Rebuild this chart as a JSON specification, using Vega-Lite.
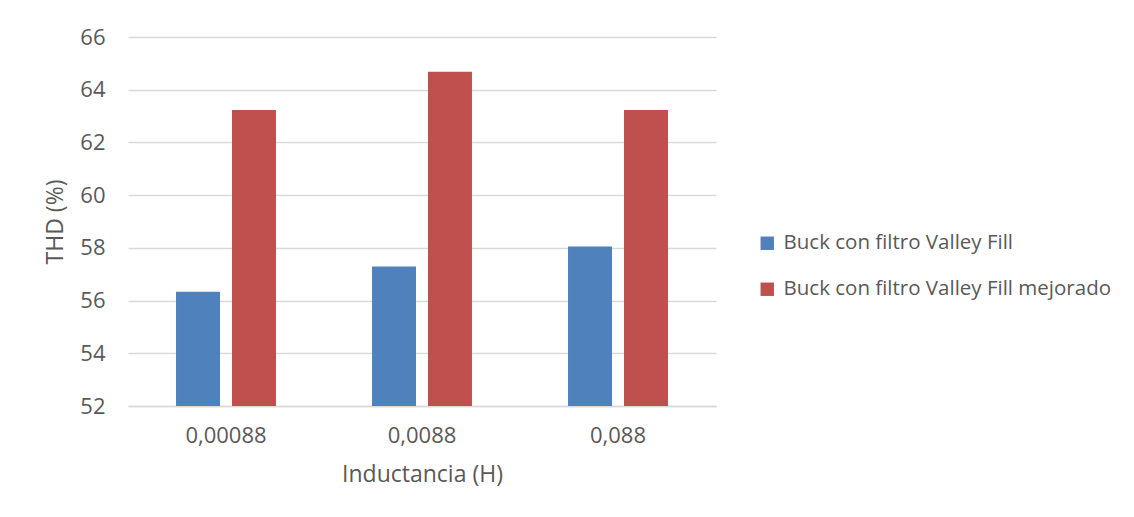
{
  "$schema": "https://vega.github.io/schema/vega-lite/v6.json",
  "autosize": "none",
  "width": 588,
  "height": 369,
  "padding": {"left": 128, "top": 37, "right": 418, "bottom": 111},
  "background": "white",
  "config": {
    "font": "Open Sans",
    "view": {"stroke": null},
    "axis": {"labelColor": "#595959", "titleColor": "#595959", "labelFont": "Open Sans", "titleFont": "Open Sans", "titleFontWeight": "normal"},
    "legend": {"labelColor": "#595959", "labelFont": "Open Sans"}
  },
  "data": {
    "values": [
      {"inductancia": "0,00088", "serie": "Buck con filtro Valley Fill", "thd": 56.33},
      {"inductancia": "0,00088", "serie": "Buck con filtro Valley Fill mejorado", "thd": 63.23},
      {"inductancia": "0,0088", "serie": "Buck con filtro Valley Fill", "thd": 57.29},
      {"inductancia": "0,0088", "serie": "Buck con filtro Valley Fill mejorado", "thd": 64.68},
      {"inductancia": "0,088", "serie": "Buck con filtro Valley Fill", "thd": 58.05},
      {"inductancia": "0,088", "serie": "Buck con filtro Valley Fill mejorado", "thd": 63.23}
    ]
  },
  "mark": {"type": "bar", "clip": true},
  "encoding": {
    "x": {
      "field": "inductancia",
      "type": "nominal",
      "sort": null,
      "scale": {"paddingInner": 0.49, "paddingOuter": 0.245},
      "axis": {
        "title": "Inductancia (H)",
        "labelAngle": 0,
        "labelFontSize": 22,
        "titleFontSize": 23,
        "labelPadding": 19,
        "titlePadding": 17,
        "ticks": false,
        "domainColor": "#d9d9d9",
        "domainWidth": 1.5
      }
    },
    "xOffset": {
      "field": "serie",
      "type": "nominal",
      "scale": {"paddingInner": 0.214, "paddingOuter": 0}
    },
    "y": {
      "field": "thd",
      "type": "quantitative",
      "scale": {"domain": [52, 66], "zero": false, "nice": false},
      "axis": {
        "title": "THD (%)",
        "values": [52, 54, 56, 58, 60, 62, 64, 66],
        "labelFontSize": 22,
        "titleFontSize": 23,
        "labelPadding": 23,
        "titlePadding": 12,
        "ticks": false,
        "domain": false,
        "gridColor": "#d9d9d9",
        "gridWidth": 1.5
      }
    },
    "color": {
      "field": "serie",
      "type": "nominal",
      "scale": {"range": ["#4F81BD", "#C0504D"]},
      "legend": {
        "title": null,
        "orient": "none",
        "legendX": 629,
        "legendY": 196,
        "symbolType": "square",
        "symbolSize": 180,
        "symbolStrokeWidth": 0,
        "symbolOpacity": 1,
        "labelFontSize": 20.5,
        "labelOffset": 6,
        "rowPadding": 25,
        "labelLimit": 500
      }
    }
  }
}
